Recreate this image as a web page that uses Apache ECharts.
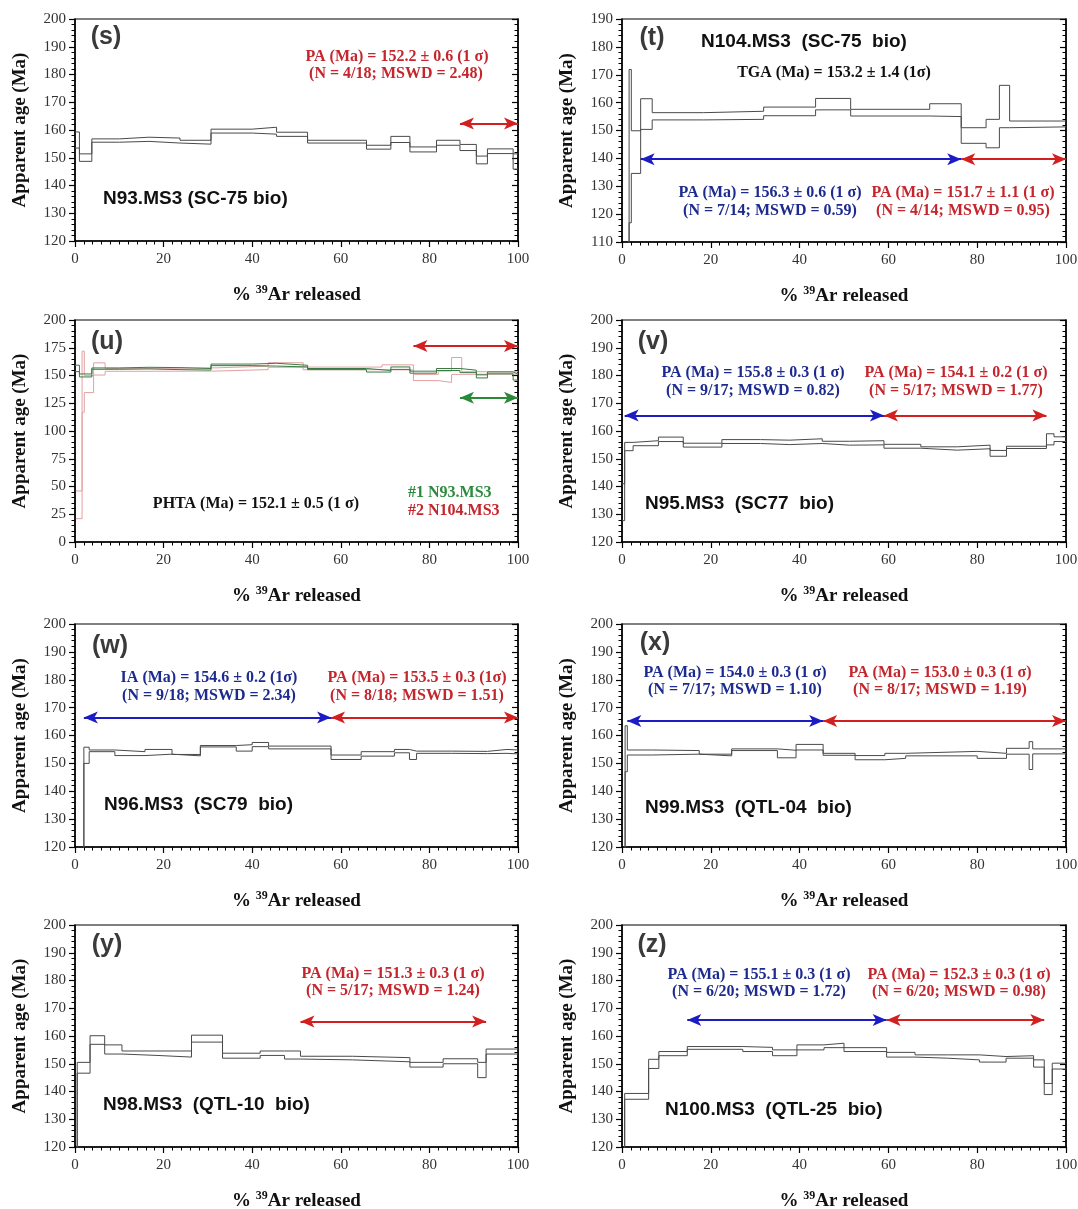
<!DOCTYPE html>
<html><head><meta charset="utf-8">
<script src="https://cdn.jsdelivr.net/npm/echarts@6/dist/echarts.min.js"></script>
<style>html,body{margin:0;padding:0;background:#fff}#c{width:1078px;height:1209px}</style>
</head><body><div id="c"></div>
<script>
// ---- step data: cumulative %39Ar boundaries, upper (age+1s) and lower (age-1s) ----
const sBounds = [0, 1.0, 3.8, 10.0, 16.7, 23.7, 30.7, 40.0, 45.5, 52.5, 65.8, 71.3, 75.6, 81.6, 86.9, 90.6, 93.1, 98.9, 100];
const sHi = [159.3, 151.4, 156.8, 157.4, 157.1, 156.3, 160.3, 161.0, 159.2, 156.3, 154.5, 157.7, 153.9, 156.3, 154.8, 150.6, 153.2, 151.4];
const sLo = [153.5, 148.7, 155.6, 155.9, 155.3, 154.9, 158.9, 158.5, 157.7, 155.3, 153.1, 155.5, 152.1, 154.5, 152.6, 147.8, 151.5, 145.9];

const tBounds = [0.2, 1.6, 2.1, 4.2, 6.8, 18.4, 31.9, 43.6, 51.5, 69.3, 76.4, 82.0, 85.0, 87.3, 100];
const tHi = [46, 171.9, 149.9, 161.4, 156.4, 156.9, 158.4, 161.5, 157.6, 159.6, 151.0, 154.0, 166.2, 153.4];
const tLo = [21, 116.9, 134.6, 150.4, 153.8, 154.0, 155.3, 157.4, 155.2, 155.0, 145.4, 143.8, 151.0, 151.3];

const vBounds = [0, 0.6, 2.5, 8.2, 13.8, 22.5, 31.2, 37.8, 45.1, 51.2, 59.0, 67.3, 75.5, 82.9, 86.6, 95.6, 97.3, 100];
const vHi = [141, 155.9, 156.5, 157.8, 155.6, 156.9, 156.7, 157.2, 156.3, 156.5, 155.2, 154.3, 154.9, 153.0, 154.5, 159.0, 157.9];
const vLo = [127.7, 152.9, 154.7, 156.2, 154.2, 155.5, 155.1, 155.5, 154.9, 155.0, 153.8, 153.1, 153.6, 150.9, 153.7, 155.0, 156.2];

const wBounds = [0, 2.0, 3.2, 9.0, 15.8, 21.9, 28.3, 36.4, 40.0, 43.7, 57.8, 64.6, 72.1, 75.5, 77.1, 85.0, 93.1, 97.5, 100];
const wHi = [112, 155.8, 154.8, 154.2, 155.0, 153.2, 156.4, 156.7, 157.5, 156.2, 153.0, 154.2, 155.0, 154.4, 154.4, 154.3, 155.0, 154.8];
const wLo = [95, 150.0, 154.2, 152.8, 153.3, 152.7, 155.9, 154.4, 156.0, 155.2, 151.4, 152.6, 153.8, 151.4, 153.6, 153.5, 153.6, 153.4];

const xBounds = [0, 0.7, 1.2, 6.7, 17.4, 24.7, 35.0, 39.2, 45.3, 52.5, 59.2, 63.9, 80.0, 86.6, 91.7, 92.5, 100];
const xHi = [115, 163.5, 154.8, 154.6, 153.3, 155.2, 154.7, 156.8, 153.6, 152.8, 153.6, 154.3, 153.6, 155.4, 157.8, 155.2];
const xLo = [100, 147.0, 153.0, 153.3, 152.7, 154.6, 152.0, 154.8, 152.9, 151.3, 151.8, 152.7, 151.8, 153.3, 147.8, 153.4];

const yBounds = [0, 0.5, 3.4, 6.7, 10.6, 18.5, 26.3, 33.3, 41.8, 47.3, 50.9, 62.6, 75.6, 83.1, 90.9, 92.8, 100];
const yHi = [110, 150.5, 160.1, 156.8, 154.6, 154.6, 160.3, 153.8, 154.6, 154.6, 152.7, 152.2, 150.5, 151.8, 150.5, 155.3];
const yLo = [95, 146.6, 157.0, 153.5, 153.0, 152.4, 157.8, 152.0, 153.0, 151.7, 151.4, 150.7, 148.8, 150.0, 145.0, 153.5];

const zBounds = [0, 0.6, 6.0, 8.3, 14.7, 27.2, 33.9, 39.4, 45.5, 50.0, 59.6, 66.0, 73.3, 80.5, 86.5, 92.7, 95.1, 96.9, 100];
const zHi = [110, 139.3, 151.6, 154.4, 156.2, 155.9, 155.0, 156.8, 157.4, 155.8, 154.1, 153.2, 153.2, 152.6, 152.9, 151.4, 142.9, 150.2];
const zLo = [95, 137.2, 148.3, 152.9, 155.2, 154.4, 152.9, 155.0, 155.8, 154.4, 152.4, 152.0, 151.4, 150.6, 152.0, 148.8, 138.9, 148.1];

// plateau step-index ranges [first, last] and arrow age levels
const sPlateauRed = [14, 17];  const sArrowAge = 162.3;
const tPlateauBlue = [3, 9];   const tPlateauRed = [10, 13]; const tArrowAge = 139.7;
const uArrowRedAge = 176.5;    const uArrowGreenAge = 130;
const vPlateauBlue = [1, 9];   const vPlateauRed = [10, 14]; const vArrowAge = 165.6;
const wPlateauBlue = [1, 9];   const wPlateauRed = [10, 17]; const wArrowAge = 166.5;
const xPlateauBlue = [2, 7];   const xPlateauRed = [8, 15];  const xArrowAge = 165.2;
const yPlateauRed = [10, 14];  const yArrowAge = 165.2;
const zPlateauBlue = [4, 9];   const zPlateauRed = [10, 15]; const zArrowAge = 165.8;

const xTickInterval = 20;

// ---- styles ----
const RED = '#d21f1f', BLUE = '#1c1cc4', GREEN = '#2a8a3a';
const RED_T = '#c3262c', BLUE_T = '#1d2b8e', GREEN_T = '#2e8b3e';
const STEP = '#4a4a4a';
const SERIF = '"Liberation Serif", "Times New Roman", serif';
const SANS = '"Liberation Sans", Arial, sans-serif';

const L = {x: 75, w: 443}, R = {x: 622, w: 444};
const panels = [
  {label:'(s)', g:L, top:19, h:222, ymin:120, ymax:200, yint:10,
   steps:[{b:sBounds, hi:sHi, lo:sLo, c:STEP}],
   arrows:[{b:sBounds, r:sPlateauRed, y:sArrowAge, c:RED}]},
  {label:'(t)', g:R, top:19, h:223, ymin:110, ymax:190, yint:10,
   steps:[{b:tBounds, hi:tHi, lo:tLo, c:STEP}],
   arrows:[{b:tBounds, r:tPlateauBlue, y:tArrowAge, c:BLUE},{b:tBounds, r:tPlateauRed, y:tArrowAge, c:RED}]},
  {label:'(u)', g:L, top:320, h:222, ymin:0, ymax:200, yint:25,
   steps:[{b:tBounds, hi:tHi, lo:tLo, c:'#e3a1a1'},{b:sBounds, hi:sHi, lo:sLo, c:'#3b7a44'}],
   arrows:[{b:tBounds, r:tPlateauRed, y:uArrowRedAge, c:RED},{b:sBounds, r:sPlateauRed, y:uArrowGreenAge, c:GREEN}]},
  {label:'(v)', g:R, top:320, h:222, ymin:120, ymax:200, yint:10,
   steps:[{b:vBounds, hi:vHi, lo:vLo, c:STEP}],
   arrows:[{b:vBounds, r:vPlateauBlue, y:vArrowAge, c:BLUE},{b:vBounds, r:vPlateauRed, y:vArrowAge, c:RED}]},
  {label:'(w)', g:L, top:624, h:223, ymin:120, ymax:200, yint:10,
   steps:[{b:wBounds, hi:wHi, lo:wLo, c:STEP}],
   arrows:[{b:wBounds, r:wPlateauBlue, y:wArrowAge, c:BLUE},{b:wBounds, r:wPlateauRed, y:wArrowAge, c:RED}]},
  {label:'(x)', g:R, top:624, h:223, ymin:120, ymax:200, yint:10,
   steps:[{b:xBounds, hi:xHi, lo:xLo, c:STEP}],
   arrows:[{b:xBounds, r:xPlateauBlue, y:xArrowAge, c:BLUE},{b:xBounds, r:xPlateauRed, y:xArrowAge, c:RED}]},
  {label:'(y)', g:L, top:925, h:222, ymin:120, ymax:200, yint:10,
   steps:[{b:yBounds, hi:yHi, lo:yLo, c:STEP}],
   arrows:[{b:yBounds, r:yPlateauRed, y:yArrowAge, c:RED}]},
  {label:'(z)', g:R, top:925, h:222, ymin:120, ymax:200, yint:10,
   steps:[{b:zBounds, hi:zHi, lo:zLo, c:STEP}],
   arrows:[{b:zBounds, r:zPlateauBlue, y:zArrowAge, c:BLUE},{b:zBounds, r:zPlateauRed, y:zArrowAge, c:RED}]}
];

function envelope(bounds, vals) {
  const d = vals.map((v, i) => [bounds[i], v]);
  d.push([bounds[bounds.length - 1], vals[vals.length - 1]]);
  return d;
}

const grid = [], xAxis = [], yAxis = [], series = [];
panels.forEach((p, i) => {
  grid.push({left: p.g.x, top: p.top, width: p.g.w, height: p.h, show: true,
    borderColor: '#000', borderWidth: 1.2, containLabel: false, outerBoundsMode: 'none'});
  xAxis.push({gridIndex: i, type: 'value', min: 0, max: 100, interval: xTickInterval, position: 'bottom',
    axisLine: {show: true, onZero: false, lineStyle: {color: '#000', width: 1.5}},
    axisTick: {show: true, length: 6, lineStyle: {color: '#000', width: 1.2}},
    minorTick: {show: true, splitNumber: 10, length: 3.5, lineStyle: {color: '#000', width: 1}},
    splitLine: {show: false}, minorSplitLine: {show: false},
    axisLabel: {fontFamily: SERIF, fontSize: 15, color: '#333', margin: 11},
    name: '% {sup|39}Ar released', nameLocation: 'middle', nameGap: 43,
    nameTextStyle: {fontFamily: SERIF, fontWeight: 'bold', fontSize: 19, color: '#111',
      rich: {sup: {fontFamily: SERIF, fontWeight: 'bold', fontSize: 12, color: '#111', padding: [0, 0, 10, 0]}}}
  });
  yAxis.push({gridIndex: i, type: 'value', min: p.ymin, max: p.ymax, interval: p.yint, position: 'left',
    axisLine: {show: true, onZero: false, lineStyle: {color: '#000', width: 1.5}},
    axisTick: {show: true, length: 6, lineStyle: {color: '#000', width: 1.2}},
    minorTick: {show: true, splitNumber: 5, length: 3.5, lineStyle: {color: '#000', width: 1}},
    splitLine: {show: false}, minorSplitLine: {show: false},
    axisLabel: {fontFamily: SERIF, fontSize: 15, color: '#333', margin: 9},
    name: 'Apparent age (Ma)', nameLocation: 'middle', nameGap: 45,
    nameTextStyle: {fontFamily: SERIF, fontWeight: 'bold', fontSize: 19, color: '#111'}
  });
  yAxis.push({gridIndex: i, type: 'value', min: p.ymin, max: p.ymax, interval: p.yint, position: 'right',
    axisLine: {show: true, onZero: false, lineStyle: {color: '#000', width: 1.5}},
    axisTick: {show: true, inside: true, length: 6, lineStyle: {color: '#000', width: 1.2}},
    minorTick: {show: true, splitNumber: 5, length: 3.5, lineStyle: {color: '#000', width: 1}},
    splitLine: {show: false}, axisLabel: {show: false}
  });
  p.steps.forEach(st => {
    [st.hi, st.lo].forEach(vals => {
      series.push({type: 'line', xAxisIndex: i, yAxisIndex: 2 * i, step: 'end', symbol: 'none',
        silent: true, animation: false, clip: true,
        lineStyle: {color: st.c, width: 1}, data: envelope(st.b, vals)});
    });
  });
  series.push({type: 'line', xAxisIndex: i, yAxisIndex: 2 * i, data: [], silent: true, animation: false,
    markLine: {silent: true, animation: false, symbol: ['arrow', 'arrow'], symbolSize: [9, 14],
      label: {show: false},
      data: p.arrows.map(a => [
        {coord: [a.b[a.r[0]], a.y], lineStyle: {color: a.c, width: 2, type: 'solid'}, itemStyle: {color: a.c}},
        {coord: [a.b[a.r[1] + 1], a.y], lineStyle: {color: a.c, width: 2, type: 'solid'}, itemStyle: {color: a.c}}
      ])}
  });
});

function txt(x, y, text, font, fill, align) {
  return {type: 'text', x: x, y: y, silent: true, z: 100,
    style: {text: text, font: font, fill: fill, align: align || 'center', textAlign: align || 'center',
      verticalAlign: 'middle', textVerticalAlign: 'middle'}};
}
const fLab = 'bold 25px ' + SANS;
const fName = 'bold 19px ' + SANS;
const fPA = 'bold 16px ' + SERIF;
const graphic = [
  // (s)
  txt(106, 37, '(s)', fLab, '#3a3a3a'),
  txt(397, 57, 'PA (Ma) = 152.2 ± 0.6 (1 σ)', fPA, RED_T),
  txt(396, 74, '(N = 4/18; MSWD = 2.48)', fPA, RED_T),
  txt(103, 199, 'N93.MS3 (SC-75 bio)', fName, '#111', 'left'),
  // (t)
  txt(652, 38, '(t)', fLab, '#3a3a3a'),
  txt(804, 42, 'N104.MS3  (SC-75  bio)', fName, '#111'),
  txt(834, 73, 'TGA (Ma) = 153.2 ± 1.4 (1σ)', fPA, '#111'),
  txt(770, 193, 'PA (Ma) = 156.3 ± 0.6 (1 σ)', fPA, BLUE_T),
  txt(770, 211, '(N = 7/14; MSWD = 0.59)', fPA, BLUE_T),
  txt(963, 193, 'PA (Ma) = 151.7 ± 1.1 (1 σ)', fPA, RED_T),
  txt(963, 211, '(N = 4/14; MSWD = 0.95)', fPA, RED_T),
  // (u)
  txt(107, 342, '(u)', fLab, '#3a3a3a'),
  txt(256, 504, 'PHTA (Ma) = 152.1 ± 0.5 (1 σ)', fPA, '#111'),
  txt(408, 493, '#1 N93.MS3', fPA, GREEN_T, 'left'),
  txt(408, 511, '#2 N104.MS3', fPA, RED_T, 'left'),
  // (v)
  txt(653, 342, '(v)', fLab, '#3a3a3a'),
  txt(753, 373, 'PA (Ma) = 155.8 ± 0.3 (1 σ)', fPA, BLUE_T),
  txt(753, 391, '(N = 9/17; MSWD = 0.82)', fPA, BLUE_T),
  txt(956, 373, 'PA (Ma) = 154.1 ± 0.2 (1 σ)', fPA, RED_T),
  txt(956, 391, '(N = 5/17; MSWD = 1.77)', fPA, RED_T),
  txt(645, 504, 'N95.MS3  (SC77  bio)', fName, '#111', 'left'),
  // (w)
  txt(110, 646, '(w)', fLab, '#3a3a3a'),
  txt(209, 678, 'IA (Ma) = 154.6 ± 0.2 (1σ)', fPA, BLUE_T),
  txt(209, 696, '(N = 9/18; MSWD = 2.34)', fPA, BLUE_T),
  txt(417, 678, 'PA (Ma) = 153.5 ± 0.3 (1σ)', fPA, RED_T),
  txt(417, 696, '(N = 8/18; MSWD = 1.51)', fPA, RED_T),
  txt(104, 805, 'N96.MS3  (SC79  bio)', fName, '#111', 'left'),
  // (x)
  txt(655, 643, '(x)', fLab, '#3a3a3a'),
  txt(735, 673, 'PA (Ma) = 154.0 ± 0.3 (1 σ)', fPA, BLUE_T),
  txt(735, 690, '(N = 7/17; MSWD = 1.10)', fPA, BLUE_T),
  txt(940, 673, 'PA (Ma) = 153.0 ± 0.3 (1 σ)', fPA, RED_T),
  txt(940, 690, '(N = 8/17; MSWD = 1.19)', fPA, RED_T),
  txt(645, 808, 'N99.MS3  (QTL-04  bio)', fName, '#111', 'left'),
  // (y)
  txt(107, 945, '(y)', fLab, '#3a3a3a'),
  txt(393, 974, 'PA (Ma) = 151.3 ± 0.3 (1 σ)', fPA, RED_T),
  txt(393, 991, '(N = 5/17; MSWD = 1.24)', fPA, RED_T),
  txt(103, 1105, 'N98.MS3  (QTL-10  bio)', fName, '#111', 'left'),
  // (z)
  txt(652, 945, '(z)', fLab, '#3a3a3a'),
  txt(759, 975, 'PA (Ma) = 155.1 ± 0.3 (1 σ)', fPA, BLUE_T),
  txt(759, 992, '(N = 6/20; MSWD = 1.72)', fPA, BLUE_T),
  txt(959, 975, 'PA (Ma) = 152.3 ± 0.3 (1 σ)', fPA, RED_T),
  txt(959, 992, '(N = 6/20; MSWD = 0.98)', fPA, RED_T),
  txt(665, 1110, 'N100.MS3  (QTL-25  bio)', fName, '#111', 'left')
];

const chart = echarts.init(document.getElementById('c'), null, {renderer: 'canvas'});
chart.setOption({backgroundColor: '#fff', animation: false, grid, xAxis, yAxis, series, graphic});
</script></body></html>
